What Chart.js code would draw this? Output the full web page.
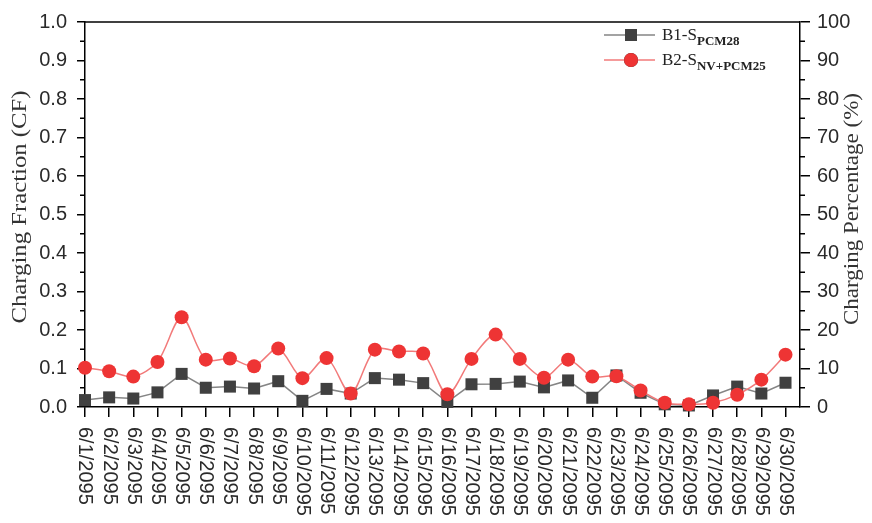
<!DOCTYPE html>
<html lang="en">
<head>
<meta charset="UTF-8">
<title>Charging Fraction</title>
<script src="https://cdn.jsdelivr.net/npm/chart.js@4.4.0/dist/chart.umd.min.js"></script>
<style>
  html, body { margin: 0; padding: 0; background: #fff; }
  #wrap { position: relative; width: 872px; height: 523px; }
</style>
</head>
<body>
<div id="wrap"><canvas id="cfChart"></canvas></div>
<script>
// dates on the x axis
const dates = [
  '6/1/2095', '6/2/2095', '6/3/2095', '6/4/2095', '6/5/2095', '6/6/2095',
  '6/7/2095', '6/8/2095', '6/9/2095', '6/10/2095', '6/11/2095', '6/12/2095',
  '6/13/2095', '6/14/2095', '6/15/2095', '6/16/2095', '6/17/2095', '6/18/2095',
  '6/19/2095', '6/20/2095', '6/21/2095', '6/22/2095', '6/23/2095', '6/24/2095',
  '6/25/2095', '6/26/2095', '6/27/2095', '6/28/2095', '6/29/2095', '6/30/2095'
];

// B1-S PCM28 (charging fraction)
const b1Values = [
  0.018, 0.025, 0.022, 0.038, 0.086, 0.050, 0.053, 0.048, 0.067, 0.016,
  0.047, 0.035, 0.075, 0.071, 0.062, 0.013, 0.059, 0.060, 0.066, 0.051,
  0.069, 0.024, 0.082, 0.037, 0.007, 0.004, 0.030, 0.053, 0.035, 0.063
];

// B2-S NV+PCM25 (charging fraction)
const b2Values = [
  0.102, 0.093, 0.079, 0.117, 0.233, 0.123, 0.126, 0.106, 0.152, 0.075,
  0.127, 0.035, 0.149, 0.144, 0.139, 0.033, 0.125, 0.188, 0.125, 0.076,
  0.123, 0.079, 0.080, 0.043, 0.011, 0.007, 0.011, 0.032, 0.071, 0.136
];

const leftTitle = 'Charging Fraction (CF)';
const rightTitle = 'Charging Percentage (%)';

const SANS = '"Liberation Sans", Arial, sans-serif';
const SERIF = '"Liberation Serif", "Times New Roman", serif';

// ticks, labels, titles and legend that chart.js can't draw as in the original
const decorations = {
  id: 'decorations',
  afterDraw(chart) {
    const ctx = chart.ctx;
    const area = chart.chartArea;
    const { x, y, y1 } = chart.scales;

    ctx.save();
    ctx.strokeStyle = '#000';
    ctx.lineWidth = 1.5;

    // top frame line
    ctx.beginPath();
    ctx.moveTo(area.left, area.top);
    ctx.lineTo(area.right, area.top);
    ctx.stroke();

    // minor ticks
    ctx.beginPath();
    for (let v = 0.05; v < 1; v += 0.1) {
      const py = y.getPixelForValue(v);
      ctx.moveTo(area.left - 5, py);
      ctx.lineTo(area.left, py);
    }
    for (let v = 5; v < 100; v += 10) {
      const py = y1.getPixelForValue(v);
      ctx.moveTo(area.right, py);
      ctx.lineTo(area.right + 5, py);
    }
    ctx.stroke();

    // x labels, turned clockwise
    ctx.fillStyle = '#2a2a2a';
    ctx.font = '20px ' + SANS;
    ctx.textAlign = 'left';
    ctx.textBaseline = 'middle';
    dates.forEach((d, i) => {
      ctx.save();
      ctx.translate(x.getPixelForValue(i), area.bottom + 20);
      ctx.rotate(Math.PI / 2);
      ctx.fillText(d, 0, 0);
      ctx.restore();
    });

    // axis titles
    const drawTitle = (text, cx, cy, len) => {
      ctx.save();
      ctx.font = '20px ' + SERIF;
      ctx.fillStyle = '#333';
      ctx.textAlign = 'center';
      ctx.textBaseline = 'middle';
      ctx.translate(cx, cy);
      ctx.rotate(-Math.PI / 2);
      ctx.scale(len / ctx.measureText(text).width, 1);
      ctx.fillText(text, 0, 0);
      ctx.restore();
    };
    drawTitle(leftTitle, 21, 207, 233);
    drawTitle(rightTitle, 853, 209, 232);

    // legend
    const entries = [
      { ds: chart.data.datasets[1], main: 'B1-S', sub: 'PCM28', cy: 35 },
      { ds: chart.data.datasets[0], main: 'B2-S', sub: 'NV+PCM25', cy: 60 }
    ];
    entries.forEach(e => {
      ctx.strokeStyle = e.ds.borderColor;
      ctx.lineWidth = 1.5;
      ctx.beginPath();
      ctx.moveTo(604, e.cy);
      ctx.lineTo(655, e.cy);
      ctx.stroke();
      Chart.helpers.drawPoint(ctx, {
        pointStyle: e.ds.pointStyle,
        radius: e.ds.pointRadius,
        borderWidth: 0
      }, 631, e.cy);
      ctx.fillStyle = e.ds.pointBackgroundColor;
      ctx.fill();

      ctx.fillStyle = '#222';
      ctx.textAlign = 'left';
      ctx.textBaseline = 'alphabetic';
      ctx.font = '17px ' + SERIF;
      ctx.fillText(e.main, 662, e.cy + 5);
      const w = ctx.measureText(e.main).width;
      ctx.font = 'bold 13px ' + SERIF;
      ctx.fillText(e.sub, 662 + w, e.cy + 10);
    });

    ctx.restore();
  }
};

const b2Points = b2Values.map((v, i) => ({ x: i, y: v }));
const b1Points = b1Values.map((v, i) => ({ x: i, y: v }));

new Chart(document.getElementById('cfChart'), {
  type: 'line',
  data: {
    datasets: [
      {
        label: 'B2-S NV+PCM25',
        data: b2Points,
        yAxisID: 'y',
        borderColor: '#f27a7a',
        borderWidth: 1.5,
        pointStyle: 'circle',
        pointRadius: 7,
        pointBackgroundColor: '#ee3434',
        pointBorderWidth: 0,
        tension: 0.3,
        clip: false,
        order: 0
      },
      {
        label: 'B1-S PCM28',
        data: b1Points,
        yAxisID: 'y',
        borderColor: '#858585',
        borderWidth: 1.5,
        pointStyle: 'rect',
        pointRadius: 8.5,
        pointBackgroundColor: '#404040',
        pointBorderWidth: 0,
        tension: 0,
        clip: false,
        order: 1
      }
    ]
  },
  options: {
    responsive: true,
    maintainAspectRatio: false,
    animation: false,
    layout: { padding: { top: 15, left: 0, right: 0, bottom: 0 } },
    plugins: {
      legend: { display: false },
      tooltip: { enabled: false }
    },
    scales: {
      x: {
        type: 'linear',
        position: 'bottom',
        min: 0,
        max: 29.6,
        afterBuildTicks: s => { s.ticks = dates.map((_, i) => ({ value: i })); },
        afterFit: s => { s.height = 116; },
        ticks: { display: false },
        grid: {
          drawOnChartArea: false,
          drawTicks: true,
          tickLength: 10,
          color: '#000',
          lineWidth: 1.5
        },
        border: { display: true, color: '#000', width: 1.5 }
      },
      y: {
        position: 'left',
        min: 0,
        max: 1,
        afterFit: s => { s.width = 85; },
        ticks: {
          stepSize: 0.1,
          padding: 10,
          color: '#2a2a2a',
          font: { family: SANS, size: 20 },
          callback: v => v.toFixed(1)
        },
        grid: {
          drawOnChartArea: false,
          drawTicks: true,
          tickLength: 8,
          color: '#000',
          lineWidth: 1.5
        },
        border: { display: true, color: '#000', width: 1.5 }
      },
      y1: {
        position: 'right',
        min: 0,
        max: 100,
        afterFit: s => { s.width = 72; },
        ticks: {
          stepSize: 10,
          padding: 7,
          color: '#2a2a2a',
          font: { family: SANS, size: 20 }
        },
        grid: {
          drawOnChartArea: false,
          drawTicks: true,
          tickLength: 10,
          color: '#000',
          lineWidth: 1.5
        },
        border: { display: true, color: '#000', width: 1.5 }
      }
    }
  },
  plugins: [decorations]
});
</script>
</body>
</html>
